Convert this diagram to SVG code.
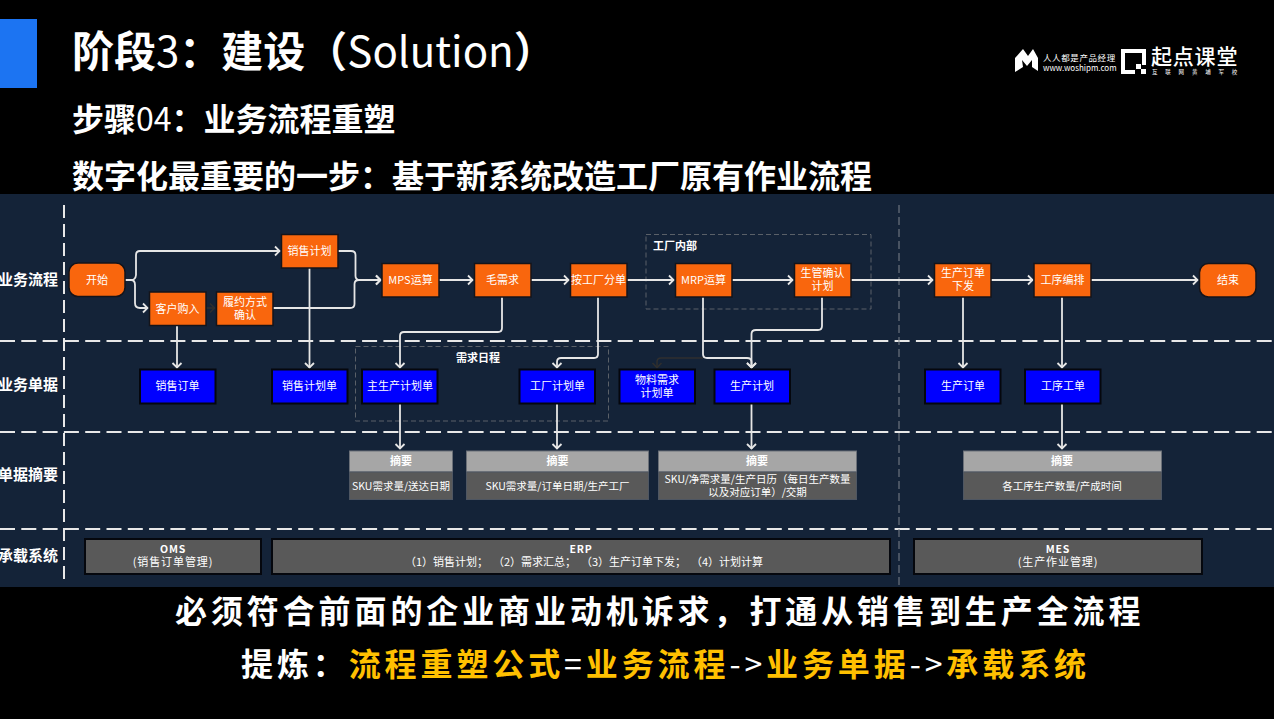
<svg xmlns="http://www.w3.org/2000/svg" width="1274" height="719" viewBox="0 0 1274 719">
<style>
text{font-family:"Noto Sans CJK SC","Noto Sans",sans-serif;fill:#fff}
.p{fill:#f9660d;stroke:#14141a;stroke-width:1.5}
.d{fill:#0000ff;stroke:#05070d;stroke-width:2}
.t{font-size:11px;text-anchor:middle}
.s{font-size:10.500px;text-anchor:middle}
.lane{font-size:15px;font-weight:700;text-anchor:end}
.c{fill:none;stroke:#e6e6e6;stroke-width:1.800;marker-end:url(#a)}
.k{fill:none;stroke:#2f2f2f;stroke-width:1.600;marker-end:url(#k)}
.h{stroke:#e8e8e8;stroke-width:2;stroke-dasharray:15 6.300}
.g{fill:none;stroke:#5a6068;stroke-width:1;stroke-dasharray:5 3}
.sh{fill:#a6a6a6;stroke:#6b7078;stroke-width:1}
.sb{fill:#595959;stroke:#4e5662;stroke-width:1}
.sy{fill:#595959;stroke:#05070d;stroke-width:2}
.big{font-size:32px;font-weight:700}
.lt{font-weight:400}
.y{fill:#ffc000}
</style>
<defs>
<marker id="a" markerUnits="userSpaceOnUse" markerWidth="10" markerHeight="12" refX="8" refY="6" orient="auto"><path d="M3 1.500L7.500 6L3 10.500" fill="none" stroke="#e6e6e6" stroke-width="1.800"/></marker>
<marker id="k" markerUnits="userSpaceOnUse" markerWidth="10" markerHeight="12" refX="8" refY="6" orient="auto"><path d="M3 1.500L7.500 6L3 10.500" fill="none" stroke="#2f2f2f" stroke-width="1.600"/></marker>
</defs>
<rect width="1274" height="719" fill="#000"/>
<rect y="194" width="1274" height="393" fill="#142338"/>
<rect y="19" width="37" height="69" fill="#1c74f2"/>

<g id="headings">
<text x="72" y="67" font-size="42" font-weight="700">阶段<tspan class="lt">3</tspan>：建设（<tspan class="lt">Solution</tspan>）</text>
<text x="72" y="131" class="big">步骤<tspan class="lt">04</tspan>：业务流程重塑</text>
<text x="72" y="188" class="big">数字化最重要的一步：基于新系统改造工厂原有作业流程</text>
</g>

<g id="brand">
<path d="M1015 58L1023 49L1028 56L1033 49L1038 58V71L1032 67V60L1027 66L1022 60L1023 67L1015 72Z" fill="#fff"/>
<text x="1043" y="61" font-size="8.500" letter-spacing=".6">人人都是产品经理</text>
<text x="1043" y="71" font-size="8" font-family="Liberation Sans">www.woshipm.com</text>
<path d="M1121 49H1146V65H1142V53H1125V70H1135V74H1121Z" fill="#fff"/>
<rect x="1136" y="64" width="5" height="5" fill="#fff"/><rect x="1141" y="69" width="5" height="5" fill="#fff"/>
<text x="1151" y="64" font-size="21" font-weight="500" letter-spacing=".8">起点课堂</text>
<text x="1152" y="74" font-size="5.500" letter-spacing="7.800">互联网黄埔军校</text>
</g>

<g id="grid">
<line x1="0" y1="341" x2="1274" y2="341" class="h"/>
<line x1="0" y1="432" x2="1274" y2="432" class="h"/>
<line x1="0" y1="529" x2="1274" y2="529" class="h"/>
<line x1="64" y1="205" x2="64" y2="585" stroke="#e8e8e8" stroke-width="2" stroke-dasharray="13 6"/>
<line x1="899" y1="205" x2="899" y2="587" stroke="#7d838b" stroke-width="1" stroke-dasharray="8 4"/>
</g>

<g id="lanes">
<text x="58" y="285" class="lane">业务流程</text>
<text x="58" y="390" class="lane">业务单据</text>
<text x="58" y="480" class="lane">单据摘要</text>
<text x="58" y="561" class="lane">承载系统</text>
</g>

<g id="factory-group"><rect x="646" y="234.500" width="225" height="74.500" class="g"/><text x="653" y="250" font-size="11" font-weight="700">工厂内部</text></g>
<g id="schedule-group"><rect x="355.500" y="346.500" width="253" height="74.500" class="g"/><text x="456" y="362" font-size="11" font-weight="700">需求日程</text></g>

<g id="connectors">
<path class="c" d="M125 280H131Q135.500 280 136 275V255Q136 251 140 251H280"/>
<path class="c" d="M125 280H131Q135 280 135 285V303Q135 308 140 308H148"/>
<path class="k" d="M206 308H215"/>
<path class="c" d="M338 251H351Q355.500 251 355.500 255V276Q355.500 280 360 280H381"/>
<path class="c" d="M273 308H350Q354.500 308 354.500 304V284Q354.500 280 359 280H381"/>
<path class="c" d="M177 325V368"/>
<path class="c" d="M309.500 268V368"/>
<path class="c" d="M439 280H473"/>
<path class="c" d="M531 280H569"/>
<path class="c" d="M627 280H674"/>
<path class="c" d="M732 280H793"/>
<path class="c" d="M851 280H933"/>
<path class="c" d="M991 280H1033"/>
<path class="c" d="M1091 280H1198"/>
<path class="c" d="M502 297V328Q502 332 498 332H404Q400 332 400 336V368"/>
<path class="c" d="M598 297V354Q598 358 594 358H561Q557 358 557 362V368"/>
<path class="k" d="M703 358H661Q657 358 657 362V368"/>
<path class="c" d="M703 297V354Q703 358 707 358H747Q751.500 358 751.500 362V368"/>
<path class="c" d="M822 297V326Q822 330 818 330H756Q751.500 330 751.500 334V368"/>
<path class="c" d="M963 297V368"/>
<path class="c" d="M1062 297V368"/>
<path class="c" d="M400 404V449"/>
<path class="c" d="M557 404V449"/>
<path class="c" d="M751.500 404V449"/>
<path class="c" d="M1062 404V449"/>
</g>

<g id="n-start"><rect x="69" y="263" width="56" height="33.500" rx="9" class="p"/><text x="97" y="284" class="t">开始</text></g>
<g id="n-sales-plan"><rect x="281.500" y="234.500" width="56.500" height="33.500" class="p"/><text x="309.500" y="255" class="t">销售计划</text></g>
<g id="n-purchase"><rect x="149.500" y="292" width="56.500" height="33.500" class="p"/><text x="177.500" y="313" class="t">客户购入</text></g>
<g id="n-fulfil"><rect x="216.500" y="292" width="56.500" height="33.500" class="p"/><text class="t"><tspan x="245" y="306">履约方式</tspan><tspan x="245" y="319">确认</tspan></text></g>
<g id="n-mps"><rect x="382" y="263.500" width="57" height="33.500" class="p"/><text x="410.500" y="284" class="t">MPS运算</text></g>
<g id="n-gross"><rect x="474.500" y="263.500" width="56.500" height="33.500" class="p"/><text x="502.500" y="284" class="t">毛需求</text></g>
<g id="n-split"><rect x="570.500" y="263.500" width="56.500" height="33.500" class="p"/><text x="598.500" y="284" class="t">按工厂分单</text></g>
<g id="n-mrp"><rect x="675.500" y="263.500" width="56.500" height="33.500" class="p"/><text x="703.500" y="284" class="t">MRP运算</text></g>
<g id="n-confirm"><rect x="794.500" y="263.500" width="56.500" height="33.500" class="p"/><text class="t"><tspan x="822.500" y="277">生管确认</tspan><tspan x="822.500" y="290">计划</tspan></text></g>
<g id="n-release"><rect x="934.500" y="263.500" width="56.500" height="33.500" class="p"/><text class="t"><tspan x="963" y="277">生产订单</tspan><tspan x="963" y="290">下发</tspan></text></g>
<g id="n-sequence"><rect x="1034" y="263.500" width="57" height="33.500" class="p"/><text x="1062.500" y="284" class="t">工序编排</text></g>
<g id="n-end"><rect x="1199.500" y="263.500" width="56.500" height="33.500" rx="9" class="p"/><text x="1228" y="284" class="t">结束</text></g>

<g id="d-sales-order"><rect x="140" y="369.500" width="75.500" height="34" class="d"/><text x="177.500" y="390" class="t">销售订单</text></g>
<g id="d-sales-plan"><rect x="272" y="369.500" width="75.500" height="34" class="d"/><text x="309.500" y="390" class="t">销售计划单</text></g>
<g id="d-master"><rect x="362" y="369.500" width="75.500" height="34" class="d"/><text x="400" y="390" class="t">主生产计划单</text></g>
<g id="d-factory"><rect x="519.500" y="369.500" width="75.500" height="34" class="d"/><text x="557.500" y="390" class="t">工厂计划单</text></g>
<g id="d-material"><rect x="619.500" y="369.500" width="75.500" height="34" class="d"/><text class="t"><tspan x="657" y="384">物料需求</tspan><tspan x="657" y="397">计划单</tspan></text></g>
<g id="d-production"><rect x="714.500" y="369.500" width="75.500" height="34" class="d"/><text x="752" y="390" class="t">生产计划</text></g>
<g id="d-prod-order"><rect x="925" y="369.500" width="75.500" height="34" class="d"/><text x="963" y="390" class="t">生产订单</text></g>
<g id="d-work-order"><rect x="1025" y="369.500" width="75.500" height="34" class="d"/><text x="1063" y="390" class="t">工序工单</text></g>

<g id="s-master"><rect x="349.500" y="451" width="103" height="21" class="sh"/><rect x="349.500" y="472" width="103" height="27.500" class="sb"/><text x="401" y="465" class="t" font-weight="700">摘要</text><text x="401" y="490" class="s">SKU需求量/送达日期</text></g>
<g id="s-factory"><rect x="466.500" y="451" width="182" height="21" class="sh"/><rect x="466.500" y="472" width="182" height="27.500" class="sb"/><text x="557.500" y="465" class="t" font-weight="700">摘要</text><text x="557.500" y="490" class="s">SKU需求量/订单日期/生产工厂</text></g>
<g id="s-production"><rect x="658.500" y="451" width="198" height="21" class="sh"/><rect x="658.500" y="472" width="198" height="27.500" class="sb"/><text x="757" y="465" class="t" font-weight="700">摘要</text><text class="s"><tspan x="757.500" y="483">SKU/净需求量/生产日历（每日生产数量</tspan><tspan x="757.500" y="496">以及对应订单）/交期</tspan></text></g>
<g id="s-work"><rect x="963.500" y="451" width="198" height="21" class="sh"/><rect x="963.500" y="472" width="198" height="27.500" class="sb"/><text x="1062" y="465" class="t" font-weight="700">摘要</text><text x="1062" y="490" class="s">各工序生产数量/产成时间</text></g>

<g id="sys-oms"><rect x="85" y="539" width="176" height="35" class="sy"/><text x="173" y="553" class="s" font-weight="700" letter-spacing=".8">OMS</text><text x="173" y="566" class="t" letter-spacing=".9">(销售订单管理)</text></g>
<g id="sys-erp"><rect x="272" y="539" width="618" height="35" class="sy"/><text x="581" y="553" class="s" font-weight="700" letter-spacing=".8">ERP</text><text x="584" y="566" class="t" word-spacing="2.400">（1）销售计划； （2）需求汇总； （3）生产订单下发； （4）计划计算</text></g>
<g id="sys-mes"><rect x="914" y="539" width="288" height="35" class="sy"/><text x="1058" y="553" class="s" font-weight="700" letter-spacing=".8">MES</text><text x="1058" y="566" class="t" letter-spacing=".9">(生产作业管理)</text></g>

<g id="summary">
<text x="175" y="623" class="big" letter-spacing="3.900">必须符合前面的企业商业动机诉求，打通从销售到生产全流程</text>
<text x="241" y="676" class="big" letter-spacing="3.900">提炼：<tspan class="y">流程重塑公式</tspan><tspan class="lt">=</tspan><tspan class="y">业务流程</tspan><tspan class="lt">-&gt;</tspan><tspan class="y">业务单据</tspan><tspan class="lt">-&gt;</tspan><tspan class="y">承载系统</tspan></text>
</g>
</svg>
